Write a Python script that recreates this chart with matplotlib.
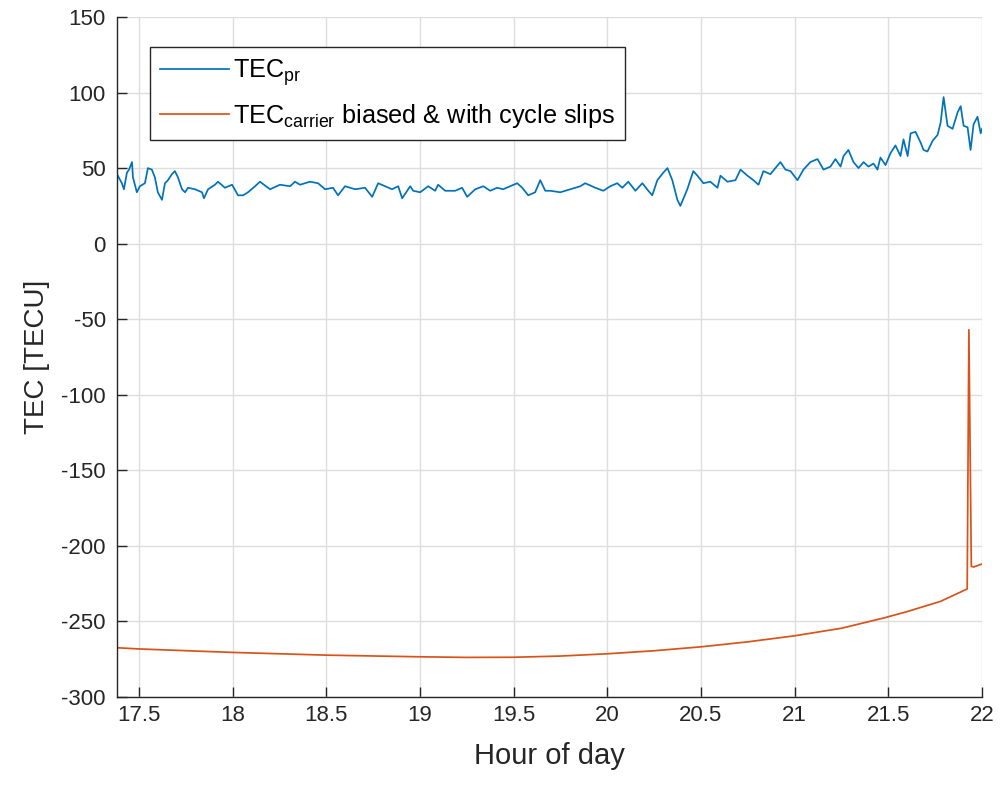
import matplotlib
matplotlib.use("Agg")
import matplotlib.pyplot as plt

plt.rcParams['font.family'] = ['Liberation Sans', 'DejaVu Sans']
plt.rcParams['mathtext.fontset'] = 'custom'
plt.rcParams['mathtext.rm'] = 'Liberation Sans'
plt.rcParams['mathtext.it'] = 'Liberation Sans:italic'
plt.rcParams['axes.unicode_minus'] = False

# ---- data ----
pr_hours = [17.383, 17.409, 17.420, 17.436, 17.447, 17.463, 17.468, 17.489, 17.505, 17.532,
            17.548, 17.569, 17.585, 17.601, 17.623, 17.639, 17.655, 17.676, 17.692, 17.708,
            17.730, 17.746, 17.762, 17.799, 17.837, 17.847, 17.869, 17.906, 17.922, 17.959,
            17.997, 18.029, 18.056, 18.082, 18.120, 18.146, 18.200, 18.253, 18.307, 18.333,
            18.360, 18.413, 18.456, 18.494, 18.536, 18.563, 18.600, 18.654, 18.707, 18.745,
            18.777, 18.814, 18.851, 18.884, 18.905, 18.948, 18.964, 19.001, 19.044, 19.081,
            19.097, 19.135, 19.188, 19.225, 19.252, 19.295, 19.338, 19.375, 19.412, 19.444,
            19.482, 19.519, 19.546, 19.578, 19.615, 19.642, 19.669, 19.696, 19.749, 19.802,
            19.856, 19.882, 19.936, 19.979, 20.016, 20.053, 20.080, 20.112, 20.150, 20.187,
            20.219, 20.240, 20.267, 20.299, 20.321, 20.347, 20.374, 20.390, 20.427, 20.459,
            20.481, 20.513, 20.550, 20.588, 20.604, 20.641, 20.684, 20.711, 20.748, 20.780,
            20.807, 20.833, 20.871, 20.897, 20.924, 20.951, 20.978, 21.015, 21.047, 21.084,
            21.122, 21.154, 21.191, 21.218, 21.245, 21.261, 21.287, 21.314, 21.341, 21.368,
            21.394, 21.421, 21.442, 21.458, 21.485, 21.512, 21.538, 21.565, 21.581, 21.603,
            21.619, 21.645, 21.672, 21.688, 21.709, 21.736, 21.763, 21.779, 21.795, 21.816,
            21.843, 21.870, 21.886, 21.902, 21.923, 21.939, 21.955, 21.976, 21.993, 22.000]
tec_pr = [46, 40, 36, 47, 49, 54, 44, 34, 38, 40,
          50, 49, 44, 34, 29, 40, 42, 46, 48, 44,
          36, 34, 37, 36, 34, 30, 36, 39, 41, 37,
          39, 32, 32, 34, 38, 41, 36, 39, 38, 41,
          39, 41, 40, 36, 37, 32, 38, 36, 37, 31,
          40, 38, 36, 38, 30, 38, 35, 34, 38, 35,
          39, 35, 35, 37, 31, 36, 38, 35, 37, 36,
          38, 40, 37, 32, 34, 42, 35, 35, 34, 36,
          38, 40, 37, 35, 38, 40, 37, 41, 35, 40,
          35, 32, 42, 47, 50, 42, 29, 25, 36, 48,
          45, 40, 41, 37, 45, 41, 42, 49, 45, 42,
          39, 48, 46, 50, 54, 49, 48, 42, 49, 54,
          56, 49, 51, 56, 51, 58, 62, 54, 50, 54,
          51, 53, 49, 57, 52, 60, 65, 58, 69, 58,
          73, 74, 67, 62, 61, 68, 72, 80, 97, 78,
          76, 87, 91, 78, 77, 62, 79, 84, 73, 76]

carrier_hours = [17.383, 17.5, 18.0, 18.5, 19.0, 19.25, 19.5, 19.75, 20.0, 20.25, 20.5,
                 20.75, 21.0, 21.25, 21.476, 21.6, 21.779, 21.921, 21.930, 21.943, 21.955, 22.0]
tec_carrier = [-267.4, -268.2, -270.5, -272.3, -273.4, -273.8, -273.7, -272.9, -271.4, -269.4, -266.8,
               -263.5, -259.5, -254.5, -247.7, -243.5, -236.7, -228.5, -57.0, -213.5, -214.0, -212.0]

x_ticks = [17.5, 18, 18.5, 19, 19.5, 20, 20.5, 21, 21.5, 22]
x_tick_labels = ['17.5', '18', '18.5', '19', '19.5', '20', '20.5', '21', '21.5', '22']
y_ticks = [-300, -250, -200, -150, -100, -50, 0, 50, 100, 150]

labels = [r'TEC$_{\mathrm{pr}}$', r'TEC$_{\mathrm{carrier}}$ biased & with cycle slips']

# ---- figure ----
fig = plt.figure(figsize=(10.02, 7.86), dpi=100)
ax = fig.add_axes([117/1002, 89/786, 865/1002, 680/786])

dark = '#262626'
ax.plot(pr_hours, tec_pr, color='#0072BD', lw=1.25, label=labels[0])
ax.plot(carrier_hours, tec_carrier, color='#D95319', lw=1.25, label=labels[1])

ax.set_xlim(17.383, 22)
ax.set_ylim(-300, 150)
ax.set_xticks(x_ticks)
ax.set_xticklabels(x_tick_labels)
ax.set_yticks(y_ticks)
ax.grid(True, color='#dedede', lw=1.0)
ax.set_axisbelow(True)
for s in ['top', 'right']:
    ax.spines[s].set_visible(False)
for s in ['left', 'bottom']:
    ax.spines[s].set_color(dark)
    ax.spines[s].set_linewidth(1.0)
ax.tick_params(direction='in', length=7, width=1.0, colors=dark, labelsize=16)
ax.tick_params(axis='x', pad=6)
ax.tick_params(axis='y', pad=8)

ax.set_xlabel('Hour of day', fontsize=21, color=dark, labelpad=11)
ax.set_ylabel('TEC [TECU]', fontsize=20, color=dark, labelpad=8)

leg = ax.legend(loc='upper left', bbox_to_anchor=(0.038, 0.956), borderaxespad=0,
                fontsize=18.2, fancybox=False, framealpha=1, edgecolor=dark,
                handlelength=2.75, handletextpad=0.15, borderpad=0.4, labelspacing=0.55)
leg.get_frame().set_linewidth(1.0)

fig.savefig('out.png', dpi=100)
